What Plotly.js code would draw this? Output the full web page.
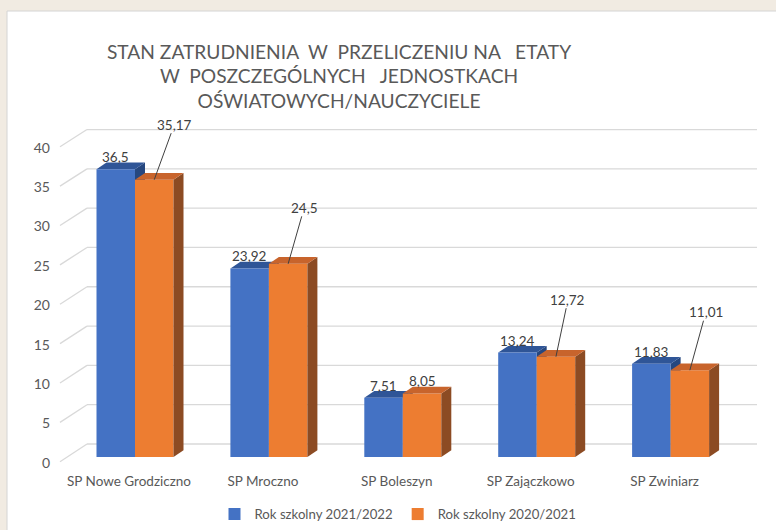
<!DOCTYPE html>
<html>
<head>
<meta charset="utf-8">
<script src="https://cdn.plot.ly/plotly-3.0.1.min.js"></script>
<style>html,body{margin:0;padding:0;background:#f1ebe2;}#chart{width:776px;height:530px;}</style>
</head>
<body>
<div id="chart"></div>
<script>
// ---- data ----
const categories = ['SP Nowe Grodziczno', 'SP Mroczno', 'SP Boleszyn', 'SP Zajączkowo', 'SP Zwiniarz'];
const seriesNames = ['Rok szkolny 2021/2022', 'Rok szkolny 2020/2021'];
const values2122 = [36.5, 23.92, 7.51, 13.24, 11.83];
const values2021 = [35.17, 24.5, 8.05, 12.72, 11.01];
const yTicks = [0, 5, 10, 15, 20, 25, 30, 35, 40];
const titleLines = ['STAN ZATRUDNIENIA\u00a0 W\u00a0 PRZELICZENIU NA\u00a0\u00a0 ETATY',
                    'W\u00a0 POSZCZEGÓLNYCH\u00a0\u00a0 JEDNOSTKACH',
                    'OŚWIATOWYCH/NAUCZYCIELE'];
// label offsets (px) for orange labels with leader lines; null = label right above bar
const leaderOffsets = [[20, -55], [16, -56], null, [12, -57], [16, -58]];

// ---- geometry / style ----
const W = 776, H = 530;
const pxPerUnit = 7.885;          // y scale
const pxPerCat = 133.9;           // x scale
const y0px = 457, x0px = 135;     // bar floor, first category centre
const barW = 0.2875, half = barW / 2;
const dx = 10 / pxPerCat, dy = 6.7 / pxPerUnit;
const blue = '#4472C4', blueTop = '#2F5597', blueSide = '#26477F';
const orange = '#ED7D31', orangeTop = '#C8642C', orangeSide = '#8C4B23';
const gridCol = '#d9d9d9';
const fontFam = 'Lato, "Open Sans", sans-serif';
const fmt = v => String(v).replace('.', ',');

const xRange = [-x0px / pxPerCat, (W - x0px) / pxPerCat];
const yRange = [(y0px - H) / pxPerUnit, y0px / pxPerUnit];
const y2Range = [(463 - H) / pxPerUnit, 463 / pxPerUnit];

const shapes = [];
// white panel
shapes.push({type: 'rect', xref: 'paper', yref: 'paper', x0: 7 / W, x1: 1.02, y0: -0.02, y1: (H - 11) / H,
  fillcolor: '#ffffff', line: {color: '#d4d4d4', width: 1}, layer: 'below'});
// back wall gridlines and side-wall diagonals
const backX0 = (87 - x0px) / pxPerCat, backX1 = (757 - x0px) / pxPerCat;
const frontX = (60 - x0px) / pxPerCat;
yTicks.forEach(v => {
  const yb = 1.649 + v * 0.997;
  const yf = -0.6 + v * 0.9988;
  shapes.push({type: 'line', xref: 'x', yref: 'y', x0: backX0, x1: backX1, y0: yb, y1: yb,
    line: {color: gridCol, width: 1.3}, layer: 'below'});
  shapes.push({type: 'line', xref: 'x', yref: 'y', x0: frontX, x1: backX0, y0: yf, y1: yb,
    line: {color: gridCol, width: 1.3}, layer: 'below'});
});
function faces(i, v, off, topC, sideC, layer) {
  const xL = i + off - half, xR = i + off + half;
  shapes.push({type: 'path', xref: 'x', yref: 'y', layer: layer, line: {width: 0}, fillcolor: sideC,
    path: `M${xR},0 L${xR},${v} L${xR + dx},${v + dy} L${xR + dx},${dy} Z`});
  shapes.push({type: 'path', xref: 'x', yref: 'y', layer: layer, line: {width: 0}, fillcolor: topC,
    path: `M${xL},${v} L${xR},${v} L${xR + dx},${v + dy} L${xL + dx},${v + dy} Z`});
}
values2122.forEach((v, i) => faces(i, v, -half, blueTop, blueSide, 'below'));
values2021.forEach((v, i) => faces(i, v, half, orangeTop, orangeSide, 'above'));

const labelFont = {family: fontFam, size: 13.5, color: '#404040'};
const annotations = [];
values2122.forEach((v, i) => annotations.push({x: i - half, y: v, xref: 'x', yref: 'y', text: fmt(v),
  showarrow: false, yanchor: 'middle', yshift: 12, font: labelFont}));
values2021.forEach((v, i) => {
  const o = leaderOffsets[i];
  if (o) {
    annotations.push({x: i + half, y: v, xref: 'x', yref: 'y', text: fmt(v), showarrow: true,
      arrowhead: 0, arrowwidth: 1, arrowcolor: '#404040', ax: o[0], ay: o[1], standoff: 0, borderpad: 0,
      font: labelFont});
  } else {
    annotations.push({x: i + half, y: v, xref: 'x', yref: 'y', text: fmt(v), showarrow: false,
      yanchor: 'middle', yshift: 13, font: labelFont});
  }
});

const traces = [
  {type: 'bar', name: seriesNames[0], x: categories, y: values2122, marker: {color: blue, line: {width: 0}}, hoverinfo: 'skip'},
  {type: 'bar', name: seriesNames[1], x: categories, y: values2021, marker: {color: orange, line: {width: 0}}, hoverinfo: 'skip'},
  // invisible trace to carry the tick-label axis
  {type: 'scatter', x: [categories[0]], y: [0], yaxis: 'y2', mode: 'markers', marker: {opacity: 0}, showlegend: false, hoverinfo: 'skip'}
];

const layout = {
  width: W, height: H,
  margin: {l: 0, r: 0, t: 0, b: 0},
  paper_bgcolor: '#f1ebe2', plot_bgcolor: 'rgba(0,0,0,0)',
  barmode: 'group', bargap: 0.425, bargroupgap: 0,
  title: {text: titleLines.join('<br>'), x: 339 / W, xanchor: 'center', y: 1 - 58.5 / H, yanchor: 'top',
    font: {family: fontFam, size: 19.2, color: '#595959'}},
  xaxis: {type: 'category', range: xRange, domain: [0, 1], anchor: 'free', position: (H - 471) / H,
    showgrid: false, zeroline: false, showline: false, ticks: '', ticklabelshift: -6,
    tickfont: {family: fontFam, size: 13.5, color: '#595959'}, fixedrange: true},
  yaxis: {range: yRange, domain: [0, 1], showgrid: false, zeroline: false, showticklabels: false, fixedrange: true},
  yaxis2: {range: y2Range, overlaying: 'y', anchor: 'free', position: 50 / W, side: 'left',
    tickvals: yTicks, showgrid: false, zeroline: false, showline: false, ticks: '',
    tickfont: {family: fontFam, size: 14, color: '#595959'}, fixedrange: true},
  legend: {orientation: 'h', x: 398 / W, xanchor: 'center', y: 0, yanchor: 'bottom',
    font: {family: fontFam, size: 13.2, color: '#595959'}, bgcolor: 'rgba(0,0,0,0)'},
  shapes: shapes,
  annotations: annotations
};

Plotly.newPlot('chart', traces, layout, {displayModeBar: false, staticPlot: true});
</script>
</body>
</html>
